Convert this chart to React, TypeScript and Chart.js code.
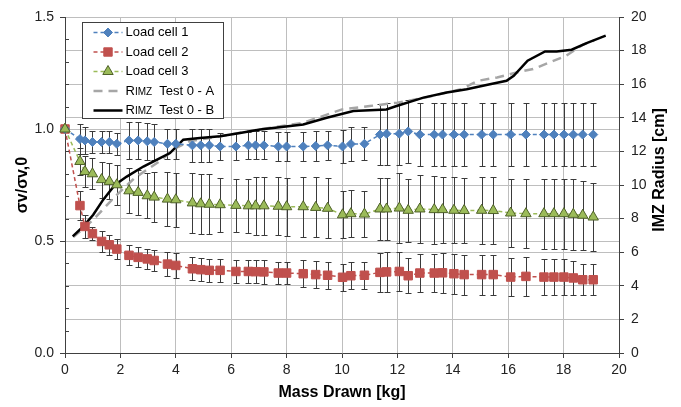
import React, { useEffect, useRef } from 'react';
import { Chart, registerables } from 'chart.js';

Chart.register(...registerables);

// ---------- data ----------
const massDrawn = [
  0, 0.54, 0.72, 0.99, 1.32, 1.6, 1.87, 2.31, 2.64, 2.97, 3.22, 3.7, 4.0, 4.6, 4.9, 5.21,
  5.6, 6.17, 6.62, 6.88, 7.18, 7.7, 8.0, 8.6, 9.05, 9.48, 10.02, 10.32, 10.81, 11.37, 11.61, 12.07,
  12.39, 12.81, 13.33, 13.63, 14.04, 14.41, 15.04, 15.46, 16.09, 16.64, 17.29, 17.65, 18.01, 18.35, 18.69, 19.07,
];

const loadCell1 = [
  1.0, 0.955, 0.949, 0.942, 0.942, 0.942, 0.934, 0.949, 0.949, 0.945, 0.942, 0.934, 0.934, 0.927, 0.927, 0.927,
  0.922, 0.922, 0.927, 0.927, 0.927, 0.922, 0.922, 0.922, 0.924, 0.927, 0.922, 0.933, 0.934, 0.975, 0.979, 0.979,
  0.989, 0.975, 0.975, 0.975, 0.975, 0.975, 0.975, 0.975, 0.975, 0.975, 0.975, 0.975, 0.975, 0.975, 0.975, 0.975,
];
const loadCell1Err = [
  0, 0.067, 0.06, 0.05, 0.049, 0.049, 0.049, 0.082, 0.082, 0.082, 0.082, 0.067, 0.067, 0.074, 0.074, 0.074,
  0.06, 0.06, 0.06, 0.063, 0.063, 0.065, 0.065, 0.065, 0.065, 0.065, 0.074, 0.074, 0.074, 0.135, 0.138, 0.14,
  0.14, 0.14, 0.14, 0.14, 0.14, 0.14, 0.14, 0.14, 0.14, 0.14, 0.14, 0.14, 0.14, 0.14, 0.14, 0.14,
];

const loadCell2 = [
  1.0, 0.658, 0.565, 0.533, 0.498, 0.483, 0.464, 0.436, 0.427, 0.42, 0.413, 0.397, 0.391, 0.376, 0.372, 0.369,
  0.369, 0.364, 0.364, 0.363, 0.362, 0.357, 0.357, 0.354, 0.35, 0.347, 0.338, 0.345, 0.347, 0.36, 0.362, 0.364,
  0.345, 0.357, 0.357, 0.358, 0.354, 0.35, 0.35, 0.35, 0.339, 0.342, 0.339, 0.339, 0.339, 0.335, 0.327, 0.327,
];
const loadCell2Err = [
  0, 0.065, 0.052, 0.03, 0.045, 0.045, 0.045, 0.045, 0.045, 0.045, 0.045, 0.055, 0.055, 0.052, 0.052, 0.052,
  0.052, 0.052, 0.052, 0.052, 0.052, 0.048, 0.048, 0.06, 0.06, 0.06, 0.06, 0.06, 0.06, 0.088, 0.088, 0.088,
  0.078, 0.084, 0.084, 0.089, 0.089, 0.089, 0.089, 0.089, 0.086, 0.086, 0.082, 0.082, 0.082, 0.075, 0.07, 0.07,
];

const loadCell3 = [
  1.0, 0.855, 0.81, 0.8, 0.774, 0.766, 0.751, 0.724, 0.717, 0.702, 0.696, 0.687, 0.684, 0.67, 0.666, 0.664,
  0.662, 0.659, 0.657, 0.657, 0.657, 0.655, 0.653, 0.653, 0.65, 0.646, 0.617, 0.622, 0.62, 0.643, 0.643, 0.647,
  0.637, 0.643, 0.64, 0.64, 0.637, 0.636, 0.637, 0.636, 0.625, 0.622, 0.622, 0.622, 0.622, 0.619, 0.615, 0.607,
];
const loadCell3Err = [
  0, 0.06, 0.07, 0.07, 0.08, 0.08, 0.09, 0.1, 0.1, 0.1, 0.11, 0.12, 0.12, 0.134, 0.134, 0.134,
  0.12, 0.12, 0.12, 0.128, 0.128, 0.13, 0.13, 0.134, 0.134, 0.134, 0.104, 0.104, 0.104, 0.138, 0.138, 0.156,
  0.14, 0.152, 0.152, 0.147, 0.147, 0.147, 0.15, 0.15, 0.152, 0.155, 0.157, 0.157, 0.157, 0.157, 0.155, 0.15,
];

const rimzAMass = [
  0.3, 1.0, 1.8, 2.5, 3.4, 4.0, 4.5, 5.6, 7.0, 8.6, 9.3, 10.0, 11.0, 12.0, 13.0, 14.3,
  14.9, 15.6, 16.3, 16.9, 17.5, 18.1, 18.7, 19.1,
];
const rimzARadius = [
  6.9, 7.9, 9.3, 10.4, 11.4, 12.2, 12.6, 12.9, 13.3, 13.7, 14.1, 14.5, 14.7, 14.9, 15.2, 15.7,
  16.2, 16.4, 16.7, 16.9, 17.3, 17.7, 18.35, 18.6,
];

const rimzBMass = [
  0.28, 0.66, 1.02, 1.38, 1.8, 2.23, 2.83, 3.43, 3.79, 4.03, 4.27, 4.87, 5.6, 6.32, 7.04, 8.6,
  9.45, 10.41, 11.6, 11.97, 12.94, 13.78, 14.5, 15.34, 15.94, 16.2, 16.7, 17.33, 17.75, 18.29, 18.83, 19.52,
];
const rimzBRadius = [
  6.94, 7.54, 8.23, 9.13, 10.0, 10.5, 11.1, 11.6, 11.9, 12.3, 12.7, 12.8, 12.9, 13.1, 13.3, 13.6,
  14.0, 14.4, 14.5, 14.7, 15.2, 15.5, 15.7, 16.0, 16.2, 16.5, 17.4, 17.95, 17.95, 18.05, 18.45, 18.89,
];

const seriesLabels = ['Load cell 1', 'Load cell 2', 'Load cell 3', 'Test 0 - A', 'Test 0 - B'];
const xTitle = 'Mass Drawn [kg]';
const yTitle = 'σv/σv,0';
const y2Title = 'IMZ Radius [cm]';

// ---------- styles ----------
const FONT = "'Liberation Sans', Arial, sans-serif";
const AXIS = '#404040';
const GRID = '#BEBEBE';
const BLUE = '#4F81BD';
const RED = '#C0504D';
const GREEN = '#9BBB59';
const GREEN_DARK = '#4F6228';
const GRAY = '#A6A6A6';

const pts = (xs: number[], ys: number[]) => xs.map((x, i) => ({ x, y: ys[i] }));

function drawMarker(ctx: CanvasRenderingContext2D, style: string, x: number, y: number, fill: string, stroke: string) {
  ctx.save();
  ctx.fillStyle = fill;
  ctx.strokeStyle = stroke;
  ctx.lineWidth = 1;
  ctx.setLineDash([]);
  ctx.beginPath();
  if (style === 'rectRot') {
    const r = 4.5;
    ctx.moveTo(x, y - r); ctx.lineTo(x + r, y); ctx.lineTo(x, y + r); ctx.lineTo(x - r, y); ctx.closePath();
  } else if (style === 'rect') {
    const s = 4.2;
    ctx.rect(x - s, y - s, 2 * s, 2 * s);
  } else if (style === 'triangle') {
    const r = 6;
    ctx.moveTo(x, y - r);
    ctx.lineTo(x + r * Math.sin(Math.PI / 3), y + r / 2);
    ctx.lineTo(x - r * Math.sin(Math.PI / 3), y + r / 2);
    ctx.closePath();
  }
  ctx.fill();
  ctx.stroke();
  ctx.restore();
}

const errorBarPlugin = {
  id: 'errorBars',
  beforeDatasetsDraw(chart: any) {
    const { ctx } = chart;
    const xs = chart.scales.x;
    const ys = chart.scales.y;
    ctx.save();
    ctx.strokeStyle = '#3A3A3A';
    ctx.lineWidth = 1;
    chart.data.datasets.forEach((ds: any) => {
      const errs: number[] | undefined = ds.errors;
      if (!errs) return;
      ds.data.forEach((p: any, j: number) => {
        const e = errs[j];
        if (!e) return;
        const px = Math.round(xs.getPixelForValue(p.x)) + 0.5;
        const y1 = Math.round(ys.getPixelForValue(p.y + e)) + 0.5;
        const y2 = Math.round(ys.getPixelForValue(p.y - e)) + 0.5;
        ctx.beginPath();
        ctx.moveTo(px, y1); ctx.lineTo(px, y2);
        ctx.moveTo(px - 3, y1); ctx.lineTo(px + 3, y1);
        ctx.moveTo(px - 3, y2); ctx.lineTo(px + 3, y2);
        ctx.stroke();
      });
    });
    ctx.restore();
  },
};

const decorPlugin = {
  id: 'decor',
  afterDraw(chart: any) {
    const { ctx, chartArea } = chart;
    const ys = chart.scales.y;
    ctx.save();
    // minor ticks on left axis
    ctx.strokeStyle = AXIS;
    ctx.lineWidth = 1;
    for (let k = 1; k < 15; k++) {
      if (k % 5 === 0) continue;
      const py = Math.round(ys.getPixelForValue(k / 10)) + 0.5;
      ctx.beginPath();
      ctx.moveTo(chartArea.left, py);
      ctx.lineTo(chartArea.left + 4, py);
      ctx.stroke();
    }
    // right axis title (reads bottom to top)
    ctx.save();
    ctx.translate(chartArea.right + 41, (chartArea.top + chartArea.bottom) / 2 - 15);
    ctx.rotate(-Math.PI / 2);
    ctx.font = `bold 16px ${FONT}`;
    ctx.fillStyle = '#000';
    ctx.textAlign = 'center';
    ctx.textBaseline = 'middle';
    ctx.fillText(y2Title, 0, 0);
    ctx.restore();

    // legend box
    const bx = chartArea.left + 17.5;
    const by = chartArea.top + 5.5;
    const bw = 141;
    const bh = 96;
    ctx.fillStyle = '#FFFFFF';
    ctx.fillRect(bx, by, bw, bh);
    ctx.strokeStyle = '#404040';
    ctx.lineWidth = 1;
    ctx.strokeRect(bx, by, bw, bh);

    const ds = chart.data.datasets;
    for (let i = 0; i < 5; i++) {
      const d = ds[i];
      const ry = by + 10 + i * 19.5;
      const x1 = bx + 11;
      const x2 = bx + 40;
      ctx.save();
      ctx.strokeStyle = d.borderColor;
      ctx.lineWidth = d.borderWidth;
      ctx.setLineDash(d.borderDash || []);
      ctx.beginPath();
      ctx.moveTo(x1, ry);
      ctx.lineTo(x2, ry);
      ctx.stroke();
      ctx.restore();
      if (d.pointRadius > 0) {
        drawMarker(ctx, d.pointStyle, (x1 + x2) / 2, ry, d.pointBackgroundColor, d.pointBorderColor);
      }
      ctx.fillStyle = '#000';
      ctx.textBaseline = 'middle';
      ctx.textAlign = 'left';
      let tx = x2 + 3;
      if (i >= 3) {
        ctx.font = `13px ${FONT}`;
        ctx.fillText('R', tx, ry);
        tx += ctx.measureText('R').width;
        ctx.font = `10px ${FONT}`;
        ctx.fillText('IMZ', tx, ry + 1);
        tx += ctx.measureText('IMZ').width;
        ctx.font = `13px ${FONT}`;
        tx += ctx.measureText('  ').width;
      } else {
        ctx.font = `13px ${FONT}`;
      }
      ctx.fillText(seriesLabels[i], tx, ry);
    }
    ctx.restore();
  },
};

const edgeColor = (edges: number[]) => (c: any) =>
  c.tick && edges.includes(c.tick.value) ? 'rgba(0,0,0,0)' : GRID;

export default function App() {
  const ref = useRef<HTMLCanvasElement | null>(null);

  useEffect(() => {
    if (!ref.current) return;
    const tickFont = { family: FONT, size: 14 };
    const titleFont = { family: FONT, size: 16, weight: 'bold' as const };

    const chart = new Chart(ref.current, {
      type: 'line',
      data: {
        datasets: [
          {
            label: seriesLabels[0],
            data: pts(massDrawn, loadCell1),
            errors: loadCell1Err,
            yAxisID: 'y',
            borderColor: BLUE,
            borderWidth: 1.5,
            borderDash: [4, 3],
            pointStyle: 'rectRot',
            pointRadius: 4.5,
            pointBackgroundColor: BLUE,
            pointBorderColor: BLUE,
            pointBorderWidth: 1,
            clip: false,
            order: 2,
          } as any,
          {
            label: seriesLabels[1],
            data: pts(massDrawn, loadCell2),
            errors: loadCell2Err,
            yAxisID: 'y',
            borderColor: RED,
            borderWidth: 1.5,
            borderDash: [4, 3],
            pointStyle: 'rect',
            pointRadius: 6,
            pointBackgroundColor: RED,
            pointBorderColor: RED,
            pointBorderWidth: 1,
            clip: false,
            order: 3,
          } as any,
          {
            label: seriesLabels[2],
            data: pts(massDrawn, loadCell3),
            errors: loadCell3Err,
            yAxisID: 'y',
            borderColor: GREEN,
            borderWidth: 1.5,
            borderDash: [4, 3],
            pointStyle: 'triangle',
            pointRadius: 6,
            pointBackgroundColor: GREEN,
            pointBorderColor: GREEN_DARK,
            pointBorderWidth: 1,
            clip: false,
            order: 1,
          } as any,
          {
            label: seriesLabels[3],
            data: pts(rimzAMass, rimzARadius),
            yAxisID: 'y2',
            borderColor: GRAY,
            borderWidth: 2.5,
            borderDash: [9, 6],
            pointRadius: 0,
            order: 5,
          } as any,
          {
            label: seriesLabels[4],
            data: pts(rimzBMass, rimzBRadius),
            yAxisID: 'y2',
            borderColor: '#000000',
            borderWidth: 2.5,
            pointRadius: 0,
            order: 4,
          } as any,
        ],
      },
      options: {
        responsive: false,
        animation: false,
        devicePixelRatio: 1,
        layout: { padding: { top: 17, left: 0, right: 0, bottom: 0 } },
        plugins: { legend: { display: false }, tooltip: { enabled: false } },
        scales: {
          x: {
            type: 'linear',
            min: 0,
            max: 20,
            ticks: { stepSize: 2, font: tickFont, color: '#222', padding: 4, maxRotation: 0 },
            grid: { color: edgeColor([0, 20]), tickColor: AXIS, tickLength: 5 },
            border: { color: AXIS },
            title: { display: true, text: xTitle, font: titleFont, color: '#000', padding: { top: 0, bottom: 5 } },
            afterFit: (s: any) => { s.height = 54; },
          },
          y: {
            position: 'left',
            min: 0,
            max: 1.5,
            ticks: { stepSize: 0.5, font: tickFont, color: '#222', padding: 6, callback: (v: any) => Number(v).toFixed(1) },
            grid: { color: edgeColor([0]), tickColor: AXIS, tickLength: 5 },
            border: { color: AXIS },
            title: { display: true, text: yTitle, font: titleFont, color: '#000', padding: { top: 13, bottom: 0 } },
            afterFit: (s: any) => { s.width = 65; },
          },
          y2: {
            position: 'right',
            min: 0,
            max: 20,
            ticks: { stepSize: 2, font: tickFont, color: '#222', padding: 7 },
            grid: { color: edgeColor([0]), tickColor: AXIS, tickLength: 5 },
            border: { color: AXIS },
            afterFit: (s: any) => { s.width = 62; },
          },
        },
      } as any,
      plugins: [errorBarPlugin, decorPlugin],
    });
    return () => chart.destroy();
  }, []);

  return (
    <div style={{ position: 'fixed', left: 0, top: 0, width: 681, height: 407, background: '#fff' }}>
      <canvas ref={ref} width={681} height={407} style={{ display: 'block', width: 681, height: 407 }} />
    </div>
  );
}
